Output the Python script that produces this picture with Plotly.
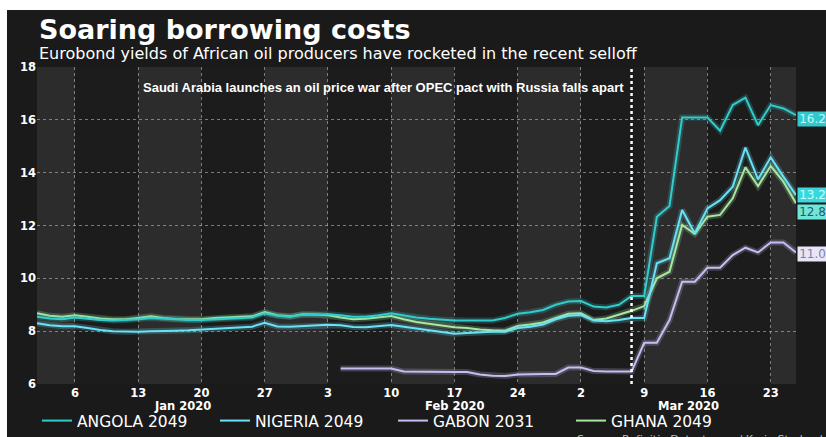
import plotly.graph_objects as go
import pandas as pd

# trading days 1 Jan 2020 .. 25 Mar 2020
dates = list(pd.bdate_range("2020-01-01", "2020-03-25"))

angola = [8.55, 8.48, 8.45, 8.52, 8.47, 8.42, 8.40, 8.42, 8.45, 8.50,
          8.47, 8.43, 8.42, 8.42, 8.45, 8.48, 8.50, 8.52, 8.68, 8.58,
          8.55, 8.62, 8.62, 8.64, 8.60, 8.55, 8.55, 8.60, 8.68, 8.60,
          8.52, 8.47, 8.43, 8.40, 8.40, 8.40, 8.40, 8.50, 8.66, 8.72,
          8.80, 9.00, 9.12, 9.14, 8.93, 8.90, 9.00, 9.33, 9.33, 12.33,
          12.74, 16.09, 16.09, 16.09, 15.59, 16.56, 16.84, 15.80, 16.56, 16.43, 16.18]
nigeria = [8.30, 8.22, 8.19, 8.19, 8.12, 8.04, 8.00, 7.98, 7.98, 8.00,
           8.02, 8.02, 8.03, 8.06, 8.08, 8.10, 8.13, 8.17, 8.32, 8.18,
           8.17, 8.19, 8.22, 8.24, 8.22, 8.16, 8.15, 8.20, 8.23, 8.17,
           8.10, 8.04, 7.97, 7.90, 7.93, 7.96, 7.98, 7.98, 8.12, 8.17,
           8.25, 8.45, 8.58, 8.61, 8.40, 8.38, 8.42, 8.50, 8.50, 10.57,
           10.76, 12.59, 11.70, 12.65, 12.96, 13.47, 14.95, 13.75, 14.58, 13.85, 13.15]
ghana = [8.68, 8.58, 8.55, 8.60, 8.55, 8.48, 8.45, 8.45, 8.50, 8.56,
         8.50, 8.46, 8.45, 8.45, 8.50, 8.52, 8.54, 8.56, 8.72, 8.60,
         8.56, 8.64, 8.63, 8.60, 8.52, 8.45, 8.47, 8.52, 8.57, 8.45,
         8.35, 8.28, 8.22, 8.15, 8.12, 8.06, 8.03, 8.02, 8.20, 8.25,
         8.33, 8.50, 8.66, 8.68, 8.42, 8.48, 8.62, 8.77, 8.95, 10.00,
         10.25, 12.02, 11.68, 12.33, 12.40, 13.03, 14.20, 13.49, 14.25, 13.66, 12.84]
gabon_start = "2020-02-04"
gabon = [6.59, 6.59, 6.59, 6.59, 6.59,
         6.47, 6.46, 6.45, 6.45, 6.45, 6.45,
         6.36, 6.31, 6.30, 6.36, 6.38, 6.38, 6.38,
         6.62, 6.62, 6.49, 6.47, 6.47, 6.47,
         7.56, 7.56, 8.42, 9.87, 9.87, 10.40, 10.40, 10.88, 11.16, 10.98, 11.36, 11.36, 10.98]

tick_dates = ["2020-01-06", "2020-01-13", "2020-01-20", "2020-01-27", "2020-02-03", "2020-02-10",
              "2020-02-17", "2020-02-24", "2020-03-02", "2020-03-09", "2020-03-16", "2020-03-23"]
tick_text = ["6", "13", "20", "27", "3", "10", "17", "24", "2", "9", "16", "23"]
month_labels = ["Jan 2020", "Feb 2020", "Mar 2020"]
month_pos = ["2020-01-16 12:00", "2020-02-17", "2020-03-12 12:00"]

event_date = "2020-03-06"
event_text = "Saudi Arabia launches an oil price war after OPEC pact with Russia falls apart"

names = ["ANGOLA 2049", "NIGERIA 2049", "GABON 2031", "GHANA 2049"]
colors = {"ANGOLA 2049": "#33cccc", "NIGERIA 2049": "#6ae2f6",
          "GABON 2031": "#c6bef2", "GHANA 2049": "#a6e8a0"}

gabon_idx = [d.strftime("%Y-%m-%d") for d in dates].index(gabon_start)
series = {
    "ANGOLA 2049": (dates, angola),
    "NIGERIA 2049": (dates, nigeria),
    "GABON 2031": (dates[gabon_idx:], gabon),
    "GHANA 2049": (dates, ghana),
}

fig = go.Figure()
draw_order = ["GABON 2031", "GHANA 2049", "ANGOLA 2049", "NIGERIA 2049"]
rank = {n: i for i, n in enumerate(names)}
for n in draw_order:
    xs, ys = series[n]
    fig.add_trace(go.Scatter(x=xs, y=ys, mode="lines", showlegend=False, hoverinfo="skip",
                             line=dict(color=colors[n], width=6), opacity=0.22))
    fig.add_trace(go.Scatter(x=xs, y=ys, mode="lines", name=n, legendrank=rank[n],
                             line=dict(color=colors[n], width=2)))

W, H = 826, 437
ml, mr, mt, mb = 37, 30, 67, 53
pw, ph = W - ml - mr, H - mt - mb
def px(x):
    return (x - ml) / pw
def py(y):
    return (H - mb - y) / ph

shapes = [dict(type="rect", xref="paper", yref="paper", x0=px(7), x1=px(W + 5), y0=py(H + 5), y1=py(10),
               fillcolor="#1a1a1a", line=dict(width=0), layer="below")]
band_edges = ["2019-12-30"] + tick_dates + ["2020-03-30"]
for i in range(len(band_edges) - 1):
    shapes.append(dict(type="rect", xref="x", yref="y domain", x0=band_edges[i], x1=band_edges[i + 1],
                       y0=0, y1=1, fillcolor="#2c2c2c" if i % 2 == 0 else "#1c1c1c",
                       line=dict(width=0), layer="below"))
shapes.append(dict(type="line", xref="x", yref="y domain", x0=event_date, x1=event_date, y0=0, y1=1,
                   line=dict(color="white", width=2.5, dash="dot")))

annotations = [
    dict(xref="paper", yref="paper", x=0, y=py(29), xanchor="left", yanchor="middle",
         text="<b>Soaring borrowing costs</b>", showarrow=False,
         font=dict(family="DejaVu Sans", size=27, color="white")),
    dict(xref="paper", yref="paper", x=0, y=py(53), xanchor="left", yanchor="middle",
         text="Eurobond yields of African oil producers have rocketed in the recent selloff", showarrow=False,
         font=dict(family="DejaVu Sans", size=16, color="white")),
    dict(xref="x", yref="y", x=event_date, y=17.24, xanchor="right", yanchor="middle", xshift=-6,
         text="<b>" + event_text + "</b>", showarrow=False,
         font=dict(family="Liberation Sans", size=13, color="white")),
    dict(xref="paper", yref="paper", x=px(575), y=py(431), xanchor="left", yanchor="top",
         text="Source: Refinitiv Datastream / Karin Strohecker", showarrow=False,
         font=dict(family="DejaVu Sans", size=11, color="#bbbbbb")),
]
for lab, pos in zip(month_labels, month_pos):
    annotations.append(dict(xref="x", yref="paper", x=pos, y=py(405.5), xanchor="center", yanchor="middle",
                            text="<b>" + lab + "</b>", showarrow=False,
                            font=dict(family="DejaVu Sans", size=11.5, color="white")))

end_labels = {
    "ANGOLA 2049": (angola[-1], -4, "#30c8cc", "#c8f8f8"),
    "NIGERIA 2049": (nigeria[-1], 0, "#38d8dc", "#d0ffff"),
    "GHANA 2049": (ghana[-1], -9, "#70e6da", "#2a5a5a"),
    "GABON 2031": (gabon[-1], -2, "#e8e6f6", "#8080a0"),
}
for n, (v, ys, bg, fc) in end_labels.items():
    annotations.append(dict(xref="x", yref="y", x=dates[-1], y=v, xanchor="left", yanchor="middle",
                            xshift=1, yshift=ys, text="&#8202;" + f"{v:.1f}", showarrow=False, bgcolor=bg,
                            borderpad=0, font=dict(family="DejaVu Sans", size=12, color=fc)))

fig.update_layout(
    width=W, height=H,
    margin=dict(l=ml, r=mr, t=mt, b=mb, pad=0, autoexpand=False),
    paper_bgcolor="white", plot_bgcolor="#1c1c1c",
    shapes=shapes, annotations=annotations,
    showlegend=True,
    legend=dict(orientation="h", x=0.0, y=py(421), xanchor="left", yanchor="middle",
                bgcolor="rgba(0,0,0,0)", entrywidth=133, entrywidthmode="pixels",
                font=dict(family="DejaVu Sans", size=15.5, color="white")),
    xaxis=dict(range=["2020-01-01", "2020-03-25"], rangebreaks=[dict(bounds=["sat", "mon"])],
               tickvals=tick_dates, ticktext=tick_text, showgrid=True,
               gridcolor="rgba(200,200,200,0.55)", griddash="dot", gridwidth=1,
               zeroline=False, showline=False, ticks="",
               tickfont=dict(family="DejaVu Sans", size=11.5, color="white", weight="bold")),
    yaxis=dict(range=[6, 18], dtick=2, showgrid=True, gridcolor="rgba(200,200,200,0.55)",
               griddash="dot", gridwidth=1, zeroline=False, showline=False, ticks="",
               tickfont=dict(family="DejaVu Sans", size=11.5, color="white", weight="bold")),
)

fig.write_html("out.html", config={"displayModeBar": False},
               post_script="document.body.style.margin='0';")
